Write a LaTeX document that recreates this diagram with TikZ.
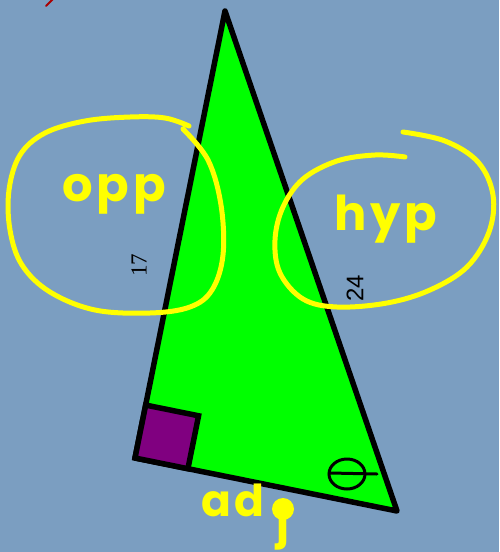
\documentclass[tikz,border=0pt]{standalone}
\usepackage{fontspec}
\usetikzlibrary{calc}
\newfontfamily\handfont{Poppins}[LetterSpace=8]
\newfontfamily\serifnum{Liberation Serif}
\newfontfamily\sansnum{Liberation Sans}
\definecolor{boardblue}{RGB}{123,158,193}
\definecolor{triggreen}{RGB}{0,255,0}
\definecolor{anglepurple}{RGB}{128,0,128}
\definecolor{penyellow}{RGB}{255,255,0}
\definecolor{penred}{RGB}{170,0,0}

\begin{document}
\begin{tikzpicture}[
  x=1pt,
  y=-1pt,
  leg/.style={
    draw=black,
    line width=5.5pt,
    line join=round
  },
  pen loop/.style={
    draw=penyellow,
    line width=5pt,
    line cap=round,
    line join=round
  },
  pen text/.style={
    text=penyellow,
    font=\handfont\bfseries\fontsize{48}{48}\selectfont,
    inner sep=0pt,
    anchor=base
  },
  side label/.style={
    rotate=90,
    inner sep=0pt
  }
]

\def\sqside{54}

% page and board colour
\useasboundingbox (0,0) rectangle (499,552);
\fill[boardblue] (0,0) rectangle (499,552);

% corners of the triangle
\coordinate (apex) at (225,11);
\coordinate (corner) at (135,458);
\coordinate (foot) at (397,511);

\draw[leg, fill=triggreen] (apex) -- (corner) -- (foot) -- cycle;

% right angle mark
\coordinate (sq-a) at ($(corner)!\sqside pt!(apex)$);
\coordinate (sq-b) at ($(corner)!\sqside pt!(foot)$);
\coordinate (sq-c) at ($(sq-a)+(sq-b)-(corner)$);
\draw[leg, fill=anglepurple, line join=miter]
  (corner) -- (sq-a) -- (sq-c) -- (sq-b) -- cycle;

% side lengths
\node[side label, font=\serifnum\fontsize{23}{23}\selectfont]
  (opplen) at (139,265) {17};
\node[side label, font=\sansnum\fontsize{24}{24}\selectfont]
  (hyplen) at (355,288) {24};

% the angle, drawn by hand
\draw[line width=3pt] (347,474) ellipse [x radius=18, y radius=15];
\draw[line width=3pt, line cap=round] (330,473) -- (377,474);

% yellow pen marks
\draw[pen loop] plot[smooth, tension=0.6] coordinates {
  (189,126) (165,118) (130,117) (85,121) (45,133) (20,155) (9,190)
  (10,230) (22,265) (50,292) (95,310) (150,313) (190,307) (212,290)
  (223,255) (221,205) (208,160) (183,129)};
\node[pen text] (opptext) at (114,201) {opp};

\draw[pen loop] plot[smooth, tension=0.6] coordinates {
  (405,157) (375,155) (337,161) (303,179) (283,207) (275,240) (280,273)
  (303,299) (337,307) (387,303) (430,290) (467,267) (489,232) (493,195)
  (478,162) (445,141) (403,132)};
\node[pen text] (hyptext) at (386,230) {hyp};

\node[pen text, anchor=base west,
  font=\handfont\bfseries\fontsize{44}{44}\selectfont]
  (adjtext) at (201,516) {ad\hspace{12pt}\raisebox{-22pt}{j}};
\fill[penyellow] (283,509) circle[radius=11];

% stray red stroke
\draw[penred, line width=2pt, line cap=round] (46,6) -- (53,-1);

\end{tikzpicture}
\end{document}
